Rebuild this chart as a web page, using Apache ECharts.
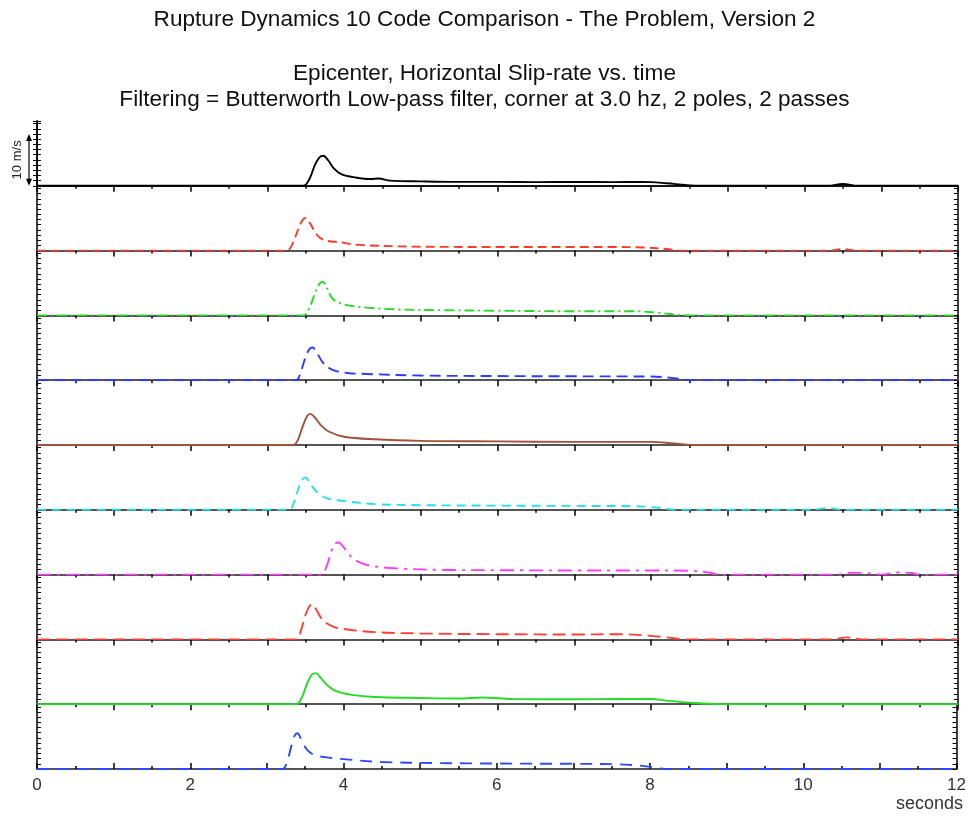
<!DOCTYPE html>
<html>
<head>
<meta charset="utf-8">
<title>Rupture Dynamics 10 Code Comparison</title>
<script src="https://cdn.jsdelivr.net/npm/echarts@6/dist/echarts.min.js"></script>
<style>
  html, body { margin: 0; padding: 0; background: #fff; }
  #chart { width: 969px; height: 818px; }
</style>
</head>
<body>
<div id="chart"></div>
<script>
// slip-rate traces (m/s) vs time (s), one pair of arrays per code
const t1 = [0, 3.47, 3.55, 3.62, 3.68, 3.73, 3.79, 3.87, 3.97, 4.15, 4.35, 4.45, 4.6, 5.0, 5.5, 6.0, 6.5, 7.0, 7.5, 7.9, 8.2, 8.45, 8.65, 10.3, 10.5, 10.7, 12];
const v1 = [0, 0, 1.3, 4.0, 5.5, 5.8, 5.0, 3.3, 2.2, 1.6, 1.3, 1.4, 1.0, 0.85, 0.75, 0.75, 0.7, 0.75, 0.7, 0.75, 0.5, 0.15, 0, 0, 0.35, 0, 0];
const t2 = [0, 3.25, 3.32, 3.4, 3.46, 3.5, 3.56, 3.65, 3.75, 3.95, 4.2, 5.0, 6.0, 7.0, 7.5, 7.9, 8.2, 8.4, 10.3, 10.5, 10.7, 12];
const v2 = [0, 0, 1.0, 4.0, 5.9, 6.3, 5.2, 3.0, 2.0, 1.6, 1.1, 0.75, 0.7, 0.7, 0.7, 0.6, 0.3, 0, 0, 0.3, 0, 0];
const t3 = [0, 3.47, 3.55, 3.62, 3.68, 3.72, 3.78, 3.85, 4.0, 4.3, 4.7, 5.3, 6.0, 7.0, 7.8, 8.1, 8.5, 12];
const v3 = [0, 0, 1.5, 4.2, 6.1, 6.5, 5.2, 3.2, 2.1, 1.5, 1.15, 1.0, 0.9, 0.8, 0.8, 0.5, 0, 0];
const t4 = [0, 3.37, 3.44, 3.5, 3.55, 3.59, 3.64, 3.72, 3.85, 4.05, 4.3, 5.0, 6.0, 7.0, 8.0, 8.3, 8.5, 12];
const v4 = [0, 0, 1.8, 4.5, 6.0, 6.3, 5.5, 3.5, 2.0, 1.4, 1.2, 0.9, 0.8, 0.75, 0.7, 0.4, 0, 0];
const t5 = [0, 3.34, 3.4, 3.46, 3.52, 3.56, 3.62, 3.7, 3.8, 4.0, 4.4, 5.0, 6.0, 7.0, 8.0, 8.3, 8.6, 12];
const v5 = [0, 0, 1.0, 3.5, 5.6, 6.0, 5.3, 3.8, 2.6, 1.6, 1.1, 0.8, 0.7, 0.6, 0.6, 0.3, 0, 0];
const t6 = [0, 3.28, 3.35, 3.41, 3.46, 3.5, 3.56, 3.65, 3.78, 4.0, 4.4, 5.0, 6.0, 7.0, 7.8, 8.1, 8.35, 10.1, 10.3, 10.5, 12];
const v6 = [0, 0, 1.5, 4.3, 5.9, 6.2, 5.0, 3.4, 2.2, 1.7, 1.1, 0.9, 0.8, 0.75, 0.7, 0.4, 0, 0, 0.35, 0, 0];
const t7 = [0, 3.7, 3.77, 3.83, 3.88, 3.93, 3.99, 4.07, 4.18, 4.35, 4.7, 5.3, 6.0, 7.0, 8.0, 8.5, 8.75, 8.9, 10.4, 10.6, 10.8, 11.0, 11.2, 11.4, 11.5, 12];
const v7 = [0, 0, 1.5, 4.3, 5.9, 6.2, 5.4, 3.8, 2.5, 1.7, 1.2, 0.9, 0.85, 0.8, 0.8, 0.75, 0.4, 0, 0, 0.35, 0.3, 0, 0.4, 0.3, 0, 0];
const t8 = [0, 3.38, 3.44, 3.5, 3.55, 3.59, 3.64, 3.72, 3.85, 4.0, 4.4, 5.0, 6.0, 7.0, 7.6, 7.9, 8.2, 8.45, 10.35, 10.55, 10.75, 12];
const v8 = [0, 0, 1.8, 4.8, 6.4, 6.8, 5.7, 3.8, 2.5, 2.0, 1.4, 1.15, 1.0, 0.95, 1.0, 0.8, 0.4, 0, 0, 0.4, 0, 0];
const t9 = [0, 3.38, 3.45, 3.52, 3.58, 3.63, 3.69, 3.78, 3.9, 4.1, 4.4, 5.0, 5.5, 5.8, 6.2, 7.0, 7.6, 8.0, 8.2, 8.5, 8.9, 12];
const v9 = [0, 0, 1.3, 4.0, 5.7, 6.0, 5.2, 3.7, 2.5, 1.8, 1.4, 1.2, 1.1, 1.3, 1.0, 0.95, 1.0, 1.0, 0.7, 0.3, 0, 0];
const t10 = [0, 3.2, 3.27, 3.32, 3.36, 3.4, 3.45, 3.52, 3.62, 3.8, 4.0, 4.5, 5.2, 6.0, 7.0, 7.6, 7.9, 8.25, 12];
const v10 = [0, 0, 1.8, 4.5, 6.4, 6.9, 5.6, 3.8, 2.7, 2.2, 1.9, 1.35, 1.15, 1.05, 1.0, 0.9, 0.6, 0, 0];

const times = [t1, t2, t3, t4, t5, t6, t7, t8, t9, t10];
const values = [v1, v2, v3, v4, v5, v6, v7, v8, v9, v10];
const colors = ['#000000', '#ff3a2a', '#22dd22', '#2a3cff', '#a0523a', '#22e0f0', '#ff3cff', '#ff4030', '#22dd22', '#2a48ff'];
const dashes = ['solid', [9, 5], [10, 4, 2, 4], [11, 6], 'solid', [9, 6], [14, 6, 3, 6], [13, 6], 'solid', [12, 8]];
const xTicks = [0, 2, 4, 6, 8, 10, 12];

const chart = echarts.init(document.getElementById('chart'));

const top0 = 121, panelH = 64.8, yMax = 12.5;
const font = 'Liberation Sans, Helvetica, Arial, sans-serif';

let grids = [], xAxes = [], yAxes = [], series = [];
for (let i = 0; i < 10; i++) {
  let last = i === 9;
  grids.push({ left: 37, right: 11, top: top0 + i * panelH, height: panelH });
  xAxes.push({
    type: 'value', gridIndex: i, min: 0, max: 12, interval: 1,
    axisLine: { show: true, lineStyle: { color: '#555', width: 2 } },
    axisTick: { show: true, inside: last, length: 6, lineStyle: { color: '#000', width: 1.5 } },
    minorTick: { show: true, splitNumber: 2, length: 3, lineStyle: { color: '#000', width: 1.5 } },
    axisLabel: {
      show: last, margin: 8, fontSize: 17, color: '#333', fontFamily: font,
      formatter: v => xTicks.indexOf(v) >= 0 ? String(v) : ''
    },
    splitLine: { show: false }
  });
  yAxes.push({
    type: 'value', gridIndex: i, min: 0, max: yMax, interval: 1, position: 'left',
    axisLine: { show: true, lineStyle: { color: '#000', width: 1.5 } },
    axisTick: { show: true, inside: true, length: 4, lineStyle: { color: '#000' } },
    axisLabel: { show: false }, splitLine: { show: false }
  });
  yAxes.push({
    type: 'value', gridIndex: i, min: 0, max: yMax, interval: 1, position: 'right',
    axisLine: { show: true, lineStyle: { color: '#000', width: 1.5 } },
    axisTick: { show: true, inside: true, length: 4, lineStyle: { color: '#000' } },
    axisLabel: { show: false }, splitLine: { show: false }
  });
  series.push({
    type: 'line', xAxisIndex: i, yAxisIndex: i * 2,
    data: times[i].map((t, k) => [t, values[i][k]]),
    showSymbol: false, smooth: 0.35, z: 5,
    lineStyle: { color: colors[i], width: 1.9, type: dashes[i] }
  });
}
// top border of the first panel, ticks pointing down
xAxes.push({
  type: 'value', gridIndex: 0, min: 0, max: 12, interval: 1, position: 'top',
  axisLine: { show: true, lineStyle: { color: '#000', width: 1.5 } },
  axisTick: { show: true, inside: true, length: 6, lineStyle: { color: '#000', width: 1.5 } },
  minorTick: { show: true, splitNumber: 2, length: 3, lineStyle: { color: '#000', width: 1.5 } },
  axisLabel: { show: false }, splitLine: { show: false }
});

const titleStyle = { fontSize: 22.6, fontWeight: 'normal', color: '#111', fontFamily: font };

chart.setOption({
  animation: false,
  backgroundColor: '#fff',
  title: [
    { text: 'Rupture Dynamics 10 Code Comparison - The Problem, Version 2', left: 'center', top: 3, textStyle: titleStyle },
    { text: 'Epicenter, Horizontal Slip-rate vs. time', left: 'center', top: 57, textStyle: titleStyle },
    { text: 'Filtering = Butterworth Low-pass filter, corner at 3.0 hz, 2 poles, 2 passes', left: 'center', top: 83, textStyle: titleStyle }
  ],
  grid: grids,
  xAxis: xAxes,
  yAxis: yAxes,
  series: series
});

// 10 m/s scale bar on the first panel
const p0 = chart.convertToPixel({ gridIndex: 0 }, [0, 0]);
const p10 = chart.convertToPixel({ gridIndex: 0 }, [0, 10]);
const ax = 29;
chart.setOption({
  graphic: [
    { type: 'line', shape: { x1: ax, y1: p10[1] + 2, x2: ax, y2: p0[1] - 2 }, style: { stroke: '#000', lineWidth: 1.2 } },
    { type: 'polygon', shape: { points: [[ax, p10[1]], [ax - 3, p10[1] + 7], [ax + 3, p10[1] + 7]] }, style: { fill: '#000' } },
    { type: 'polygon', shape: { points: [[ax, p0[1]], [ax - 3, p0[1] - 7], [ax + 3, p0[1] - 7]] }, style: { fill: '#000' } },
    {
      type: 'text', x: 17, y: (p0[1] + p10[1]) / 2, rotation: Math.PI / 2,
      style: { text: '10 m/s', fontSize: 13, fill: '#222', fontFamily: font, align: 'center', verticalAlign: 'middle' }
    },
    {
      type: 'text', x: 963, y: 804,
      style: { text: 'seconds', fontSize: 18, fill: '#333', fontFamily: font, align: 'right', verticalAlign: 'middle' }
    }
  ]
});
</script>
</body>
</html>
